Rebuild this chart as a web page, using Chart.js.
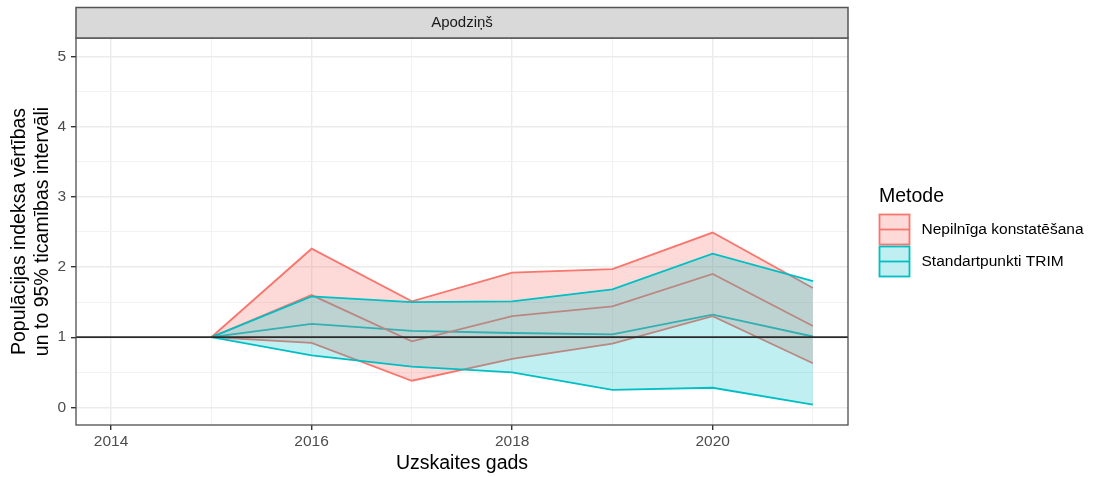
<!DOCTYPE html>
<html>
<head>
<meta charset="utf-8">
<script src="https://cdn.jsdelivr.net/npm/chart.js@4"></script>
<style>
  html, body { margin: 0; padding: 0; background: #ffffff; }
  #wrap { width: 1097px; height: 477px; }
</style>
</head>
<body>
<div id="wrap"><canvas id="c" width="1097" height="477"></canvas></div>
<script>
// ---- data ----
const years = [2015, 2016, 2017, 2018, 2019, 2020, 2021];
const nepUpper = [1, 2.26, 1.51, 1.92, 1.97, 2.49, 1.70];
const nepMid   = [1, 1.60, 0.94, 1.30, 1.44, 1.90, 1.16];
const nepLower = [1, 0.92, 0.38, 0.69, 0.91, 1.30, 0.63];
const trimUpper = [1, 1.58, 1.50, 1.51, 1.68, 2.19, 1.80];
const trimMid   = [1, 1.19, 1.09, 1.06, 1.04, 1.32, 1.01];
const trimLower = [1, 0.74, 0.58, 0.50, 0.25, 0.28, 0.04];
const xTickValues = [2014, 2015, 2016, 2017, 2018, 2019, 2020, 2021];
const yTickValues = [0, 0.5, 1, 1.5, 2, 2.5, 3, 3.5, 4, 4.5, 5];
const methods = ['Nepilnīga konstatēšana', 'Standartpunkti TRIM'];
const facetLabel = 'Apodziņš';
const legendTitle = 'Metode';
const xTitle = 'Uzskaites gads';
const yTitle = ['Populācijas indeksa vērtības', 'un to 95% ticamības intervāli'];
const refLine = 1;

// ---- styles ----
const RED = 'rgb(248,118,109)';
const TEAL = 'rgb(0,191,196)';
const RED_FILL = 'rgba(248,118,109,0.27)';
const TEAL_FILL = 'rgba(0,191,196,0.25)';
const FONT = "'Liberation Sans', Arial, Helvetica, sans-serif";

const pts = arr => years.map((y, i) => ({ x: y, y: arr[i] }));
const lineBase = { pointRadius: 0, pointHoverRadius: 0, borderWidth: 1.8, tension: 0, fill: false };

const datasets = [
  Object.assign({}, lineBase, { label: methods[1] + ' mid', data: pts(trimMid), borderColor: TEAL, order: 8 }),
  Object.assign({}, lineBase, { label: methods[0] + ' mid', data: pts(nepMid), borderColor: RED, order: 7 }),
  Object.assign({}, lineBase, { label: methods[0], data: pts(nepUpper), borderColor: RED, backgroundColor: RED_FILL, fill: 3, order: 6 }),
  Object.assign({}, lineBase, { label: methods[0] + ' low', data: pts(nepLower), borderColor: RED, order: 5 }),
  Object.assign({}, lineBase, { label: methods[1], data: pts(trimUpper), borderColor: TEAL, backgroundColor: TEAL_FILL, fill: 5, order: 4 }),
  Object.assign({}, lineBase, { label: methods[1] + ' low', data: pts(trimLower), borderColor: TEAL, order: 3 })
];

const decor = {
  id: 'decor',
  beforeDraw(chart) {
    const ctx = chart.ctx;
    ctx.save();
    ctx.fillStyle = '#ffffff';
    ctx.fillRect(0, 0, chart.width, chart.height);
    ctx.restore();
  },
  afterDatasetsDraw(chart) {
    const ctx = chart.ctx;
    const a = chart.chartArea;
    const ys = chart.scales.y;
    ctx.save();
    // reference line
    const yr = ys.getPixelForValue(refLine);
    ctx.strokeStyle = '#2a2a2a';
    ctx.lineWidth = 1.8;
    ctx.beginPath();
    ctx.moveTo(a.left, yr);
    ctx.lineTo(a.right, yr);
    ctx.stroke();
    // panel border
    ctx.strokeStyle = '#4d4d4d';
    ctx.lineWidth = 1.3;
    ctx.strokeRect(a.left, a.top, a.right - a.left, a.bottom - a.top);
    // strip
    const sTop = 7.5;
    ctx.fillStyle = '#D9D9D9';
    ctx.fillRect(a.left, sTop, a.right - a.left, a.top - sTop);
    ctx.strokeStyle = '#555555';
    ctx.lineWidth = 1.5;
    ctx.strokeRect(a.left, sTop, a.right - a.left, a.top - sTop);
    ctx.fillStyle = '#1A1A1A';
    ctx.font = '15px ' + FONT;
    ctx.textAlign = 'center';
    ctx.textBaseline = 'middle';
    ctx.fillText(facetLabel, (a.left + a.right) / 2, (sTop + a.top) / 2 + 0.5);
    // x title
    ctx.fillStyle = '#000000';
    ctx.font = '19.5px ' + FONT;
    ctx.textAlign = 'center';
    ctx.textBaseline = 'alphabetic';
    ctx.fillText(xTitle, (a.left + a.right) / 2, 468.5);
    // y title
    ctx.save();
    ctx.translate(0, (a.top + a.bottom) / 2);
    ctx.rotate(-Math.PI / 2);
    ctx.textBaseline = 'middle';
    ctx.fillText(yTitle[0], 0, 19.5);
    ctx.fillText(yTitle[1], 0, 42.5);
    ctx.restore();
    // legend
    ctx.textAlign = 'left';
    ctx.textBaseline = 'alphabetic';
    ctx.font = '19.5px ' + FONT;
    ctx.fillStyle = '#000000';
    ctx.fillText(legendTitle, 879, 202);
    const keys = [
      { line: RED, fill: RED_FILL, y: 214.5 },
      { line: TEAL, fill: TEAL_FILL, y: 246.5 }
    ];
    const kx = 879.5, ks = 30;
    keys.forEach((k, i) => {
      ctx.fillStyle = k.fill;
      ctx.fillRect(kx, k.y, ks, ks);
      ctx.strokeStyle = k.line;
      ctx.lineWidth = 1.8;
      ctx.strokeRect(kx, k.y, ks, ks);
      ctx.beginPath();
      ctx.moveTo(kx, k.y + ks / 2);
      ctx.lineTo(kx + ks, k.y + ks / 2);
      ctx.stroke();
      ctx.fillStyle = '#000000';
      ctx.font = '15.5px ' + FONT;
      ctx.textBaseline = 'middle';
      ctx.fillText(methods[i], 921.5, k.y + ks / 2);
    });
    ctx.restore();
  }
};

Chart.defaults.font.family = FONT;

new Chart(document.getElementById('c'), {
  type: 'line',
  data: { datasets },
  options: {
    responsive: false,
    animation: false,
    events: [],
    layout: { padding: { top: 38, right: 249, left: 0, bottom: 0 } },
    plugins: { legend: { display: false }, tooltip: { enabled: false } },
    scales: {
      x: {
        type: 'linear',
        min: 2013.65,
        max: 2021.35,
        afterBuildTicks: s => { s.ticks = xTickValues.map(v => ({ value: v })); },
        afterFit: s => { s.height = 52; },
        border: { display: false },
        grid: {
          color: c => (c.tick && c.tick.value % 2 === 0) ? '#EBEBEB' : '#F2F2F2',
          lineWidth: c => (c.tick && c.tick.value % 2 === 0) ? 1.4 : 1,
          tickColor: c => (c.tick && c.tick.value % 2 === 0) ? '#333333' : 'rgba(0,0,0,0)',
          tickLength: 5,
          drawTicks: true
        },
        ticks: {
          autoSkip: false,
          maxRotation: 0,
          padding: 2,
          color: '#4D4D4D',
          font: { size: 15.5 },
          callback: v => (v % 2 === 0 ? String(v) : '')
        }
      },
      y: {
        type: 'linear',
        min: -0.25,
        max: 5.26,
        afterBuildTicks: s => { s.ticks = yTickValues.map(v => ({ value: v })); },
        afterFit: s => { s.width = 76; },
        border: { display: false },
        grid: {
          color: c => (c.tick && Number.isInteger(c.tick.value)) ? '#EBEBEB' : '#F2F2F2',
          lineWidth: c => (c.tick && Number.isInteger(c.tick.value)) ? 1.4 : 1,
          tickColor: c => (c.tick && Number.isInteger(c.tick.value)) ? '#333333' : 'rgba(0,0,0,0)',
          tickLength: 5,
          drawTicks: true
        },
        ticks: {
          autoSkip: false,
          padding: 5,
          color: '#4D4D4D',
          font: { size: 15.5 },
          callback: v => (Number.isInteger(v) ? String(v) : '')
        }
      }
    }
  },
  plugins: [decor]
});
</script>
</body>
</html>
